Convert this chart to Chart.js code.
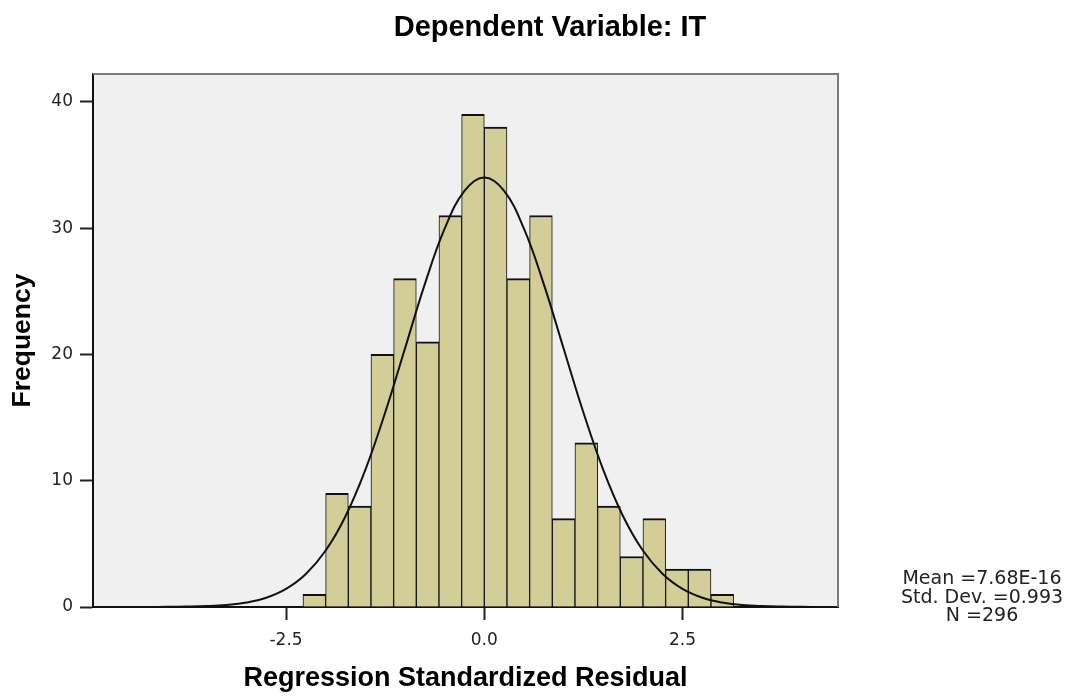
<!DOCTYPE html>
<html>
<head>
<meta charset="utf-8">
<script src="https://cdn.jsdelivr.net/npm/chart.js@4/dist/chart.umd.min.js"></script>
<style>
  html, body { margin: 0; padding: 0; background: #ffffff; }
  #wrap { width: 1077px; height: 700px; }
</style>
</head>
<body>
<div id="wrap"><canvas id="c" width="1077" height="700"></canvas></div>
<script>
// ---- data ----
const chartTitle = 'Dependent Variable: IT';
const xAxisTitle = 'Regression Standardized Residual';
const yAxisTitle = 'Frequency';
const binCenters = [-2.1435, -1.8577, -1.5719, -1.2861, -1.0003, -0.7145, -0.4287, -0.1429,
                    0.1429, 0.4287, 0.7145, 1.0003, 1.2861, 1.5719, 1.8577, 2.1435, 2.4293, 2.7151, 3.0009];
const frequencies = [1, 9, 8, 20, 26, 21, 31, 39, 38, 26, 31, 7, 13, 8, 4, 7, 3, 3, 1];
const curveX = [-5.0, -4.75, -4.5, -4.25, -4.0, -3.75, -3.5, -3.25, -3.0, -2.75, -2.5, -2.25, -2.0, -1.75,
                -1.5, -1.25, -1.0, -0.75, -0.5, -0.25, 0.0, 0.25, 0.5, 0.75, 1.0, 1.25, 1.5, 1.75,
                2.0, 2.25, 2.5, 2.75, 3.0, 3.25, 3.5, 3.75, 4.0, 4.25, 4.5];
const curveY = [0, 0, 0, 0, 0.01, 0.03, 0.07, 0.16, 0.35, 0.73, 1.43, 2.61, 4.47, 7.19,
                10.86, 15.40, 20.47, 25.56, 29.95, 32.94, 34.0, 32.94, 29.95, 25.56, 20.47, 15.40, 10.86, 7.19,
                4.47, 2.61, 1.43, 0.73, 0.35, 0.16, 0.07, 0.03, 0.01, 0, 0];
const xTickValues = [-2.5, 0.0, 2.5];
const yTickValues = [0, 10, 20, 30, 40];
const statsLines = ['Mean =7.68E-16', 'Std. Dev. =0.993', 'N =296'];

const barPoints = binCenters.map((x, i) => ({ x: x, y: frequencies[i] }));
const curvePoints = curveX.map((x, i) => ({ x: x, y: curveY[i] }));

const decor = {
  id: 'decor',
  beforeDraw(chart) {
    const { ctx, chartArea: a } = chart;
    ctx.save();
    ctx.fillStyle = '#f0f0f0';
    ctx.fillRect(a.left, a.top, a.right - a.left, a.bottom - a.top);
    ctx.restore();
  },
  afterDraw(chart) {
    const { ctx, chartArea: a } = chart;
    ctx.save();
    // top and right frame
    ctx.strokeStyle = '#7a7a7a';
    ctx.lineWidth = 2;
    ctx.beginPath();
    ctx.moveTo(a.left, a.top);
    ctx.lineTo(a.right, a.top);
    ctx.lineTo(a.right, a.bottom);
    ctx.stroke();
    // main title
    ctx.fillStyle = '#000';
    ctx.font = 'bold 29px "Liberation Sans", Arial, sans-serif';
    ctx.textAlign = 'center';
    ctx.textBaseline = 'alphabetic';
    ctx.fillText(chartTitle, 550, 36);
    // stats
    ctx.fillStyle = '#222';
    ctx.font = '19px "DejaVu Sans", sans-serif';
    const baselines = [584, 602.5, 621];
    statsLines.forEach((t, i) => ctx.fillText(t, 982, baselines[i]));
    ctx.restore();
  }
};

new Chart(document.getElementById('c'), {
  type: 'bar',
  data: {
    datasets: [
      {
        type: 'line',
        data: curvePoints,
        borderColor: '#111',
        borderWidth: 2,
        pointRadius: 0,
        tension: 0.4,
        fill: false,
        order: 0
      },
      {
        type: 'bar',
        data: barPoints,
        backgroundColor: '#d3ce97',
        borderColor: '#111',
        borderWidth: { top: 2, left: 1, right: 1, bottom: 0 },
        borderSkipped: 'start',
        barPercentage: 1.0,
        categoryPercentage: 1.0,
        order: 1
      }
    ]
  },
  options: {
    responsive: false,
    animation: false,
    layout: { padding: { top: 74, right: 239, bottom: 0, left: 0 } },
    plugins: {
      legend: { display: false },
      tooltip: { enabled: false },
      title: { display: false }
    },
    scales: {
      x: {
        type: 'linear',
        min: -4.934,
        max: 4.46,
        offset: false,
        z: 1,
        afterFit(scale) { scale.height = 93; },
        afterBuildTicks(scale) { scale.ticks = xTickValues.map(v => ({ value: v })); },
        grid: { offset: false, drawOnChartArea: false, drawTicks: true, tickLength: 13, tickWidth: 2, tickColor: '#222', color: '#222' },
        border: { display: true, color: '#111', width: 2 },
        ticks: {
          padding: 10,
          color: '#222',
          font: { family: '"DejaVu Sans", sans-serif', size: 17 },
          callback: (v) => Number(v).toFixed(1),
          maxRotation: 0
        },
        title: {
          display: true,
          text: xAxisTitle,
          color: '#000',
          font: { family: '"Liberation Sans", Arial, sans-serif', size: 27, weight: 'bold' },
          padding: { top: 0, bottom: 5 }
        }
      },
      y: {
        type: 'linear',
        min: 0,
        max: 42.2,
        z: 1,
        afterFit(scale) { scale.width = 93; },
        afterBuildTicks(scale) { scale.ticks = yTickValues.map(v => ({ value: v })); },
        grid: { drawOnChartArea: false, drawTicks: true, tickLength: 13, tickWidth: 2, tickColor: '#222', color: '#222' },
        border: { display: true, color: '#111', width: 2 },
        ticks: {
          padding: 7,
          color: '#222',
          font: { family: '"DejaVu Sans", sans-serif', size: 17 },
          callback: (v) => String(v)
        },
        title: {
          display: true,
          text: yAxisTitle,
          color: '#000',
          font: { family: '"Liberation Sans", Arial, sans-serif', size: 26.5, weight: 'bold' },
          padding: { top: 7, bottom: 0 }
        }
      }
    }
  },
  plugins: [decor]
});
</script>
</body>
</html>
